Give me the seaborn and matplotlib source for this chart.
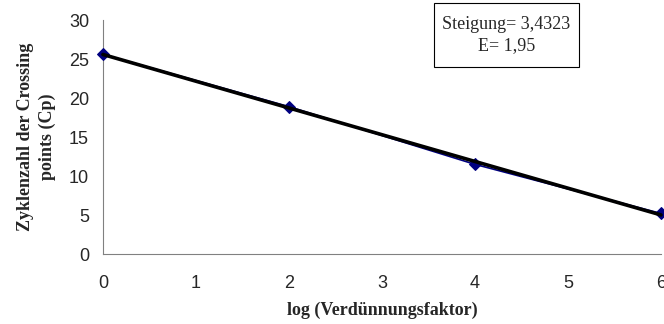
import matplotlib
matplotlib.use("Agg")
import matplotlib.pyplot as plt
from matplotlib.patches import Rectangle
import seaborn as sns
import pandas as pd

# Dilution series: log dilution factor vs. crossing point cycle number
log_dilution = [0, 2, 4, 6]
crossing_points = [25.6, 18.9, 11.5, 5.2]
x_ticks = [0, 1, 2, 3, 4, 5, 6]
y_ticks = [0, 5, 10, 15, 20, 25, 30]
slope_text = "Steigung= 3,4323\nE= 1,95"

df = pd.DataFrame({"x": log_dilution, "y": crossing_points})

sns.set_style("white")
plt.rcParams["font.family"] = ["Liberation Sans", "DejaVu Sans"]

fig = plt.figure(figsize=(6.64, 3.24), dpi=100)
ax = fig.add_axes([0.155, 0.216, 0.8405, 0.722])

sns.lineplot(data=df, x="x", y="y", ax=ax, color="#000080", marker="D",
             markersize=6.5, markeredgecolor="#000080", linewidth=1.2,
             clip_on=False, zorder=3)
sns.regplot(data=df, x="x", y="y", ax=ax, scatter=False, ci=None,
            line_kws={"color": "black", "linewidth": 2.6, "zorder": 4,
                      "clip_on": False})

ax.set_xlim(0, 6)
ax.set_ylim(0, 30)
ax.set_xticks(x_ticks)
ax.set_yticks(y_ticks)
ax.tick_params(axis="both", direction="out", length=5, width=0.8,
               color="#808080", labelsize=13)
ax.tick_params(axis="x", pad=10)
ax.tick_params(axis="y", pad=5)
for lbl in ax.get_xticklabels():
    lbl.set_clip_on(False)

for side in ("top", "right"):
    ax.spines[side].set_visible(False)
for side in ("left", "bottom"):
    ax.spines[side].set_color("#808080")
    ax.spines[side].set_linewidth(0.8)

serif = ["Liberation Serif", "DejaVu Serif"]
ax.set_xlabel("log (Verdünnungsfaktor)", family=serif, fontweight="bold",
              fontsize=13, labelpad=7)
ax.set_ylabel("Zyklenzahl der Crossing\npoints (Cp)", family=serif,
              fontweight="bold", fontsize=13, labelpad=9,
              linespacing=1.35)

# Annotation box with slope and efficiency
fig.patches.append(Rectangle((0.6536, 0.7932), 0.2184, 0.1975,
                             transform=fig.transFigure, facecolor="white",
                             edgecolor="black", linewidth=0.8, zorder=5))
fig.text(0.7628, 0.892, slope_text, family=serif, fontsize=13,
         ha="center", va="center", linespacing=1.25, zorder=6)

fig.savefig("out.png", dpi=100)
